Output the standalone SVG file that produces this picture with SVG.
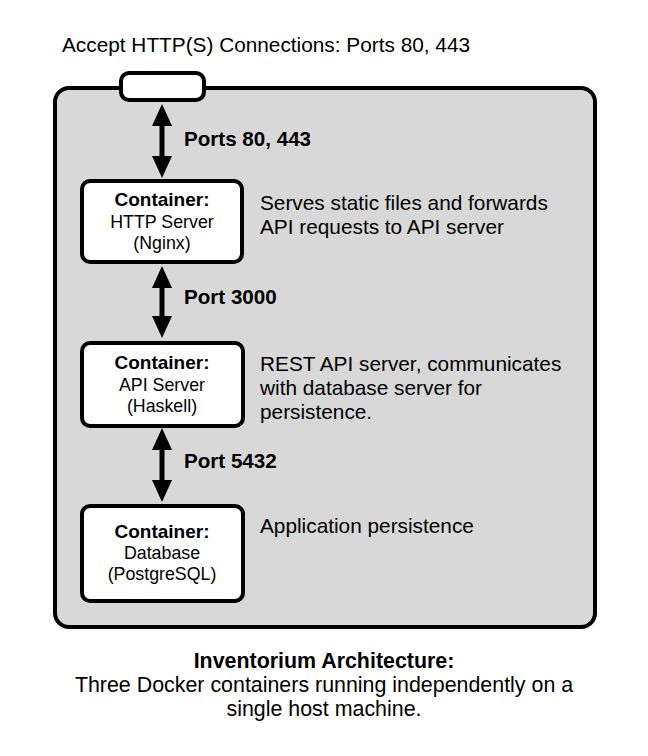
<svg xmlns="http://www.w3.org/2000/svg" width="648" height="756" viewBox="0 0 648 756">
<style>
text{font-family:"Liberation Sans",Arial,Helvetica,sans-serif;fill:#000}
.lbl{font-size:20.8px}
.cap{font-size:21.4px;text-anchor:middle}
.port{font-size:20.6px;font-weight:bold}
.nb{font-size:19px;font-weight:bold;text-anchor:middle}
.nt{font-size:17.8px;text-anchor:middle}
.node{fill:#fff;stroke:#000;stroke-width:4}
.conn{stroke:#000;stroke-width:5;fill:none;marker-start:url(#ah);marker-end:url(#ah)}
</style>
<defs>
<marker id="ah" viewBox="0 0 22 20" refX="5" refY="10" markerWidth="22" markerHeight="20" markerUnits="userSpaceOnUse" orient="auto-start-reverse">
<path d="M0,0 L22,10 L0,20 z" fill="#000"/>
</marker>
</defs>
<rect x="0" y="0" width="648" height="756" fill="#fff"/>
<text class="lbl" x="62" y="52">Accept HTTP(S) Connections: Ports 80, 443</text>
<g id="host">
<rect x="55" y="88" width="540" height="539" rx="14" fill="#d8d8d8" stroke="#000" stroke-width="4"/>
<rect x="121" y="73" width="83" height="27" rx="8" fill="#fff" stroke="#000" stroke-width="4"/>
</g>
<g id="connectors">
<line class="conn" x1="162" y1="121" x2="162" y2="161"/>
<line class="conn" x1="162" y1="283" x2="162" y2="321"/>
<line class="conn" x1="162" y1="445" x2="162" y2="485"/>
</g>
<text class="port" x="184" y="146">Ports 80, 443</text>
<text class="port" x="184" y="304">Port 3000</text>
<text class="port" x="184" y="468">Port 5432</text>
<g id="nginx">
<rect class="node" x="82" y="181" width="160" height="81" rx="8"/>
<text class="nb" x="162" y="206">Container:</text>
<text class="nt" x="162" y="228">HTTP Server</text>
<text class="nt" x="162" y="249">(Nginx)</text>
</g>
<g id="api">
<rect class="node" x="82" y="343" width="161" height="83" rx="8"/>
<text class="nb" x="162" y="369">Container:</text>
<text class="nt" x="162" y="391">API Server</text>
<text class="nt" x="162" y="412">(Haskell)</text>
</g>
<g id="db">
<rect class="node" x="82" y="506" width="161" height="95" rx="8"/>
<text class="nb" x="162" y="538">Container:</text>
<text class="nt" x="162" y="559">Database</text>
<text class="nt" x="162" y="580">(PostgreSQL)</text>
</g>
<text class="lbl" x="260" y="210">Serves static files and forwards</text>
<text class="lbl" x="260" y="234">API requests to API server</text>
<text class="lbl" x="260" y="371">REST API server, communicates</text>
<text class="lbl" x="260" y="395">with database server for</text>
<text class="lbl" x="260" y="419">persistence.</text>
<text class="lbl" x="260" y="533">Application persistence</text>
<text class="cap" x="324" y="668" font-size="20.8px" font-weight="bold">Inventorium Architecture:</text>
<text class="cap" x="324" y="692">Three Docker containers running independently on a</text>
<text class="cap" x="324" y="716">single host machine.</text>
</svg>
